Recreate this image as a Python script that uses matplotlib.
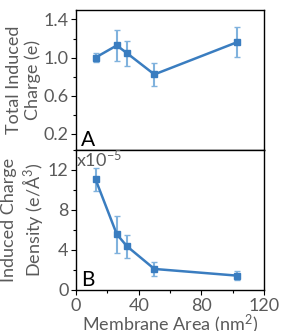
import numpy as np
import matplotlib
matplotlib.use('Agg')
import matplotlib.pyplot as plt
from matplotlib.ticker import MultipleLocator, FuncFormatter

plt.rcParams['font.family'] = ['Lato', 'DejaVu Sans']
plt.rcParams['mathtext.fontset'] = 'custom'
plt.rcParams['mathtext.rm'] = 'Lato'
plt.rcParams['mathtext.it'] = 'Lato'

# data
area = [12.4, 26, 32.5, 50, 103]
charge = [1.0, 1.127, 1.046, 0.823, 1.162]
charge_err = [0.05, 0.165, 0.13, 0.12, 0.16]
density = [11.07e-5, 5.57e-5, 4.37e-5, 2.1e-5, 1.43e-5]
density_err = [1.17e-5, 1.83e-5, 1.17e-5, 0.68e-5, 0.48e-5]

line_col = '#3a7dc0'
err_col = '#80b2dd'
txt_col = '#5a5a5a'

fig = plt.figure(figsize=(2.85, 3.31), dpi=100)
ax1 = fig.add_axes([0.267, 0.547, 0.659, 0.423])
ax2 = fig.add_axes([0.267, 0.124, 0.659, 0.423])

def style(ax):
    ax.tick_params(which='both', direction='out', labelcolor=txt_col,
                   labelsize=13, top=False, right=False, pad=2)
    ax.tick_params(which='major', length=3.5, width=0.8)
    ax.tick_params(which='minor', length=2.5, width=0.8)
    for s in ax.spines.values():
        s.set_linewidth(1.0)

for ax, y, e in [(ax1, charge, charge_err), (ax2, density, density_err)]:
    ax.errorbar(area, y, yerr=e, fmt='none', ecolor=err_col, elinewidth=1.5,
                capsize=2.5, capthick=1.0, zorder=2)
    ax.plot(area, y, '-s', color=line_col, lw=1.8, ms=4.5, zorder=3)
    ax.set_xlim(0, 120)
    ax.xaxis.set_major_locator(MultipleLocator(40))
    ax.xaxis.set_minor_locator(MultipleLocator(20))
    style(ax)

ax1.set_ylim(0.03, 1.5)
ax1.yaxis.set_major_locator(MultipleLocator(0.4, offset=0.2))
ax1.yaxis.set_minor_locator(MultipleLocator(0.2))
ax1.yaxis.set_major_formatter(FuncFormatter(lambda v, p: f'{v:.1f}'))
ax1.tick_params(axis='x', which='both', bottom=False, labelbottom=False)
ax1.set_ylabel('Total Induced\nCharge (e)', color=txt_col, fontsize=13,
               linespacing=1.15, labelpad=2)
ax1.text(0.025, 0.0, 'A', transform=ax1.transAxes, fontsize=15,
         ha='left', va='bottom', color='black')

ax2.set_ylim(0, 14e-5)
ax2.yaxis.set_major_locator(MultipleLocator(4e-5))
ax2.yaxis.set_minor_locator(MultipleLocator(2e-5))
ax2.yaxis.set_major_formatter(FuncFormatter(lambda v, p: f'{v / 1e-5:.0f}'))
ax2.text(0.0, 1.01, 'x10$^{-5}$', transform=ax2.transAxes, fontsize=13,
         ha='left', va='top', color=txt_col)
ax2.set_ylabel('Induced Charge\nDensity (e/Å$^3$)', color=txt_col, fontsize=13,
               linespacing=1.15, labelpad=2)
ax2.set_xlabel('Membrane Area (nm$^2$)', color=txt_col, fontsize=13, labelpad=-0.5)
ax2.text(0.025, 0.0, 'B', transform=ax2.transAxes, fontsize=15,
         ha='left', va='bottom', color='black')

fig.savefig('out.png', dpi=100)
